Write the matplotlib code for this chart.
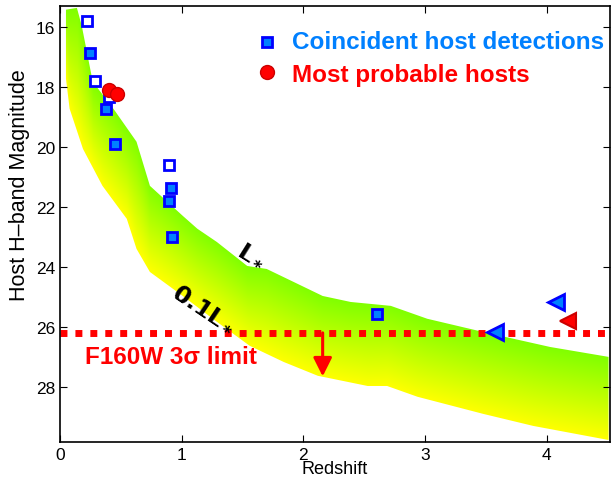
import matplotlib
matplotlib.use('Agg')
import matplotlib.pyplot as plt
import numpy as np
from matplotlib.patches import Polygon

plt.rcParams['font.family'] = ['Liberation Sans', 'DejaVu Sans']

# L* band (upper edge) and 0.1 L* band (lower edge)
lstar_z = [0.05, 0.14, 0.18, 0.27, 0.44, 0.63, 0.74, 1.01, 1.13, 1.29, 1.54, 1.70,
           1.92, 2.16, 2.39, 2.72, 3.02, 3.48, 4.03, 4.51]
lstar_m = [15.43, 15.37, 15.97, 17.83, 18.73, 19.83, 21.30, 22.30, 22.73, 23.17, 23.97, 24.07,
           24.50, 24.97, 25.17, 25.30, 25.73, 26.17, 26.67, 27.00]
tenth_z = [0.05, 0.08, 0.19, 0.35, 0.55, 0.63, 0.74, 1.01, 1.29, 1.56, 1.84, 2.12,
           2.53, 2.69, 2.94, 3.48, 3.89, 4.51]
tenth_m = [17.73, 18.73, 20.07, 21.30, 22.40, 23.40, 24.17, 24.97, 25.83, 26.63, 27.17, 27.63,
           27.97, 27.97, 28.33, 28.90, 29.30, 29.77]

# host detections
open_z = [0.22, 0.29, 0.40, 0.90]
open_m = [15.80, 17.80, 18.33, 20.60]
fill_z = [0.25, 0.38, 0.45, 0.91, 0.90, 0.92, 2.61]
fill_m = [16.87, 18.73, 19.90, 21.37, 21.80, 23.00, 25.57]
prob_z = [0.40, 0.47]
prob_m = [18.10, 18.23]
tri_blue_z = [3.58, 4.08]
tri_blue_m = [26.17, 25.17]
tri_red_z = [4.18]
tri_red_m = [25.80]

limit_mag = 26.2
arrow_z = 2.16
arrow_end = 27.65

fig = plt.figure(figsize=(6.11, 4.85), dpi=100)
ax = fig.add_axes([0.098, 0.087, 0.9, 0.899])
ax.set_xlim(0, 4.52)
ax.set_ylim(29.83, 15.3)

# gradient band
gx = np.linspace(0, 4.52, 700)
gy = np.linspace(15.3, 29.83, 600)
GX, GY = np.meshgrid(gx, gy)
up = np.interp(gx, lstar_z, lstar_m)
lo = np.interp(gx, tenth_z, tenth_m)
t = np.clip((GY - up) / (lo - up), 0, 1)
green = np.array([0.5, 1.0, 0.0])
yellow = np.array([1.0, 1.0, 0.0])
img = green[None, None, :] * (1 - t[..., None]) + yellow[None, None, :] * t[..., None]
im = ax.imshow(img, extent=[0, 4.52, 29.83, 15.3], origin='upper', aspect='auto',
               interpolation='bilinear', zorder=1)
poly = np.vstack([np.column_stack([lstar_z, lstar_m]),
                  np.column_stack([tenth_z[::-1], tenth_m[::-1]])])
patch = Polygon(poly, closed=True, facecolor='none', edgecolor='none')
ax.add_patch(patch)
im.set_clip_path(patch)

# limit line and arrow
ax.plot([0, 4.52], [limit_mag, limit_mag], color='red', lw=5, dashes=(1, 1.15), zorder=2)
ax.annotate('', xy=(arrow_z, arrow_end), xytext=(arrow_z, limit_mag),
            arrowprops=dict(arrowstyle='-|>', color='red', lw=2.2, mutation_scale=28,
                            shrinkA=0, shrinkB=0), zorder=3)

# points
ax.plot(open_z, open_m, 's', ms=7, mfc='white', mec='#0000ff', mew=2, zorder=4)
ax.plot(fill_z, fill_m, 's', ms=7, mfc='#0080ff', mec='#0000ff', mew=2, zorder=4)
ax.plot(prob_z, prob_m, 'o', ms=10, mfc='red', mec='#cc0000', mew=1, zorder=5)
ax.plot(tri_blue_z, tri_blue_m, '<', ms=11, mfc='#0080ff', mec='#0000ff', mew=2, zorder=4)
ax.plot(tri_red_z, tri_red_m, '<', ms=11, mfc='#ff0000', mec='#cc0000', mew=1.5, zorder=4)

# legend by hand
ax.plot([1.70], [16.5], 's', ms=7, mfc='#0080ff', mec='#0000ff', mew=2, zorder=6)
ax.plot([1.70], [17.5], 'o', ms=10, mfc='red', mec='#cc0000', mew=1, zorder=6)
ax.text(1.91, 16.5, 'Coincident host detections', color='#0080ff', fontsize=17.5,
        fontweight='bold', va='center', ha='left', zorder=6)
ax.text(1.91, 17.6, 'Most probable hosts', color='red', fontsize=17.5,
        fontweight='bold', va='center', ha='left', zorder=6)

ax.text(0.21, 27.0, 'F160W 3\u03c3 limit', color='red', fontsize=17.5,
        fontweight='bold', va='center', ha='left', zorder=6)
ax.text(1.58, 23.57, r'$\mathbf{L_*}$', fontsize=17, rotation=-32,
        ha='center', va='center', zorder=6)
ax.text(1.19, 25.33, r'$\mathbf{0.1L_*}$', fontsize=17, rotation=-34,
        ha='center', va='center', zorder=6)

ax.set_xticks([0, 1, 2, 3, 4])
ax.set_yticks([16, 18, 20, 22, 24, 26, 28])
ax.tick_params(direction='in', top=True, right=True, labelsize=12.5, length=5)
ax.set_xlabel('Redshift', fontsize=13, labelpad=-1)
ax.set_ylabel('Host H\u2013band Magnitude', fontsize=15.5)
ax.yaxis.set_label_coords(-0.055, 0.59)
for s in ax.spines.values():
    s.set_linewidth(1.2)

fig.savefig('out.png', dpi=100)
